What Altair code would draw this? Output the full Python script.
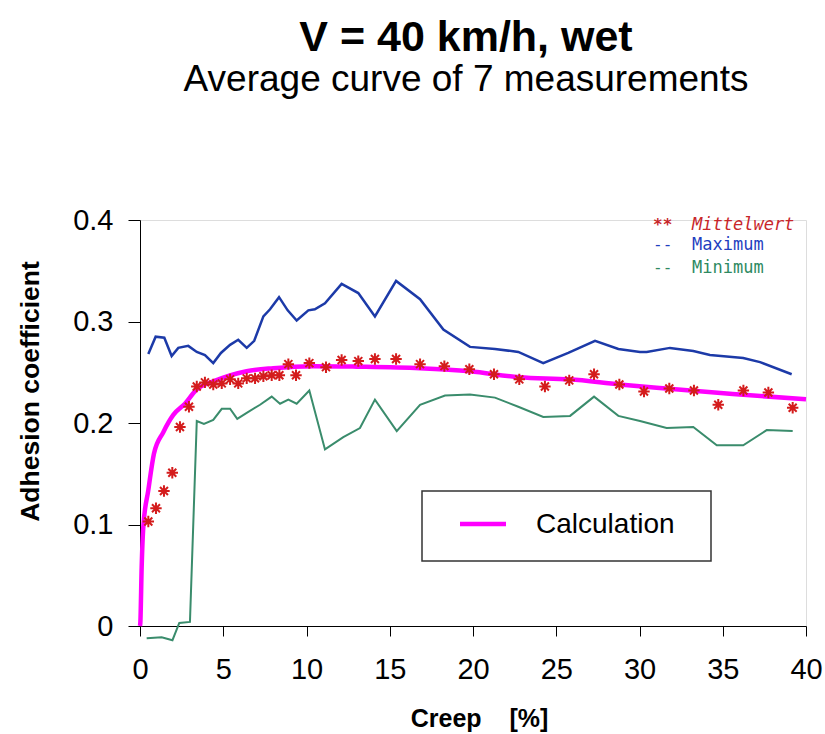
import altair as alt
import pandas as pd

# ---------------- data ----------------
max_x = [0.5, 0.94, 1.46, 1.9, 2.3, 2.9, 3.41, 3.9, 4.4, 4.86, 5.41, 5.9, 6.41, 6.86, 7.41, 7.81,
         8.35, 8.87, 9.41, 10.11, 10.5, 11.11, 12.11, 13.11, 14.11, 15.38, 16.82, 18.22, 19.82,
         21.32, 22.72, 24.22, 25.72, 27.33, 28.73, 30.03, 30.43, 31.83, 33.23, 34.23, 36.23, 37.24, 39.14]
max_y = [0.268, 0.285, 0.284, 0.266, 0.274, 0.276, 0.270, 0.267, 0.259, 0.269, 0.277, 0.282, 0.274,
         0.281, 0.305, 0.312, 0.324, 0.311, 0.301, 0.311, 0.312, 0.318, 0.337, 0.328, 0.305, 0.340,
         0.322, 0.292, 0.275, 0.273, 0.270, 0.259, 0.269, 0.281, 0.273, 0.270, 0.270, 0.274, 0.271,
         0.267, 0.264, 0.260, 0.248]

min_x = [0.4, 1.3, 1.95, 2.36, 3.0, 3.41, 3.84, 4.40, 4.91, 5.41, 5.84, 6.41, 7.21, 7.91, 8.41, 8.91,
         9.41, 10.17, 11.11, 12.21, 13.21, 14.11, 15.42, 16.82, 18.32, 19.82, 21.32, 22.72, 24.22,
         25.83, 27.27, 28.73, 30.03, 31.63, 33.23, 34.64, 36.23, 37.64, 39.2]
min_y = [-0.012, -0.011, -0.014, 0.003, 0.004, 0.202, 0.199, 0.203, 0.214, 0.214, 0.204, 0.210, 0.218,
         0.226, 0.219, 0.223, 0.219, 0.232, 0.174, 0.186, 0.195, 0.223, 0.192, 0.218, 0.227, 0.228,
         0.225, 0.216, 0.206, 0.207, 0.226, 0.207, 0.202, 0.195, 0.196, 0.178, 0.178, 0.193, 0.192]

mean_x = [0.50, 0.96, 1.44, 1.94, 2.40, 2.94, 3.41, 3.90, 4.40, 4.91, 5.41, 5.90, 6.41, 6.91, 7.41,
          7.91, 8.37, 8.91, 9.37, 10.17, 11.17, 12.11, 13.11, 14.11, 15.38, 16.82, 18.28, 19.78,
          21.26, 22.78, 24.32, 25.78, 27.27, 28.79, 30.27, 31.79, 33.27, 34.73, 36.24, 37.74, 39.2]
mean_y = [0.103, 0.116, 0.133, 0.151, 0.196, 0.216, 0.236, 0.240, 0.238, 0.239, 0.243, 0.239, 0.244,
          0.244, 0.246, 0.247, 0.247, 0.258, 0.247, 0.259, 0.255, 0.262, 0.261, 0.263, 0.263, 0.258,
          0.256, 0.253, 0.248, 0.243, 0.236, 0.242, 0.248, 0.238, 0.231, 0.234, 0.232, 0.218, 0.232,
          0.230, 0.215]

calc_x = [0, 0.02, 0.1, 0.2, 0.5, 0.84, 1.4, 2.0, 2.7, 3.4, 4.4, 5.4, 6.4, 8.0, 10.4, 13.0, 16.8,
          19.8, 22.8, 25.8, 28.8, 31.6, 35.6, 40.0]
calc_y = [0, 0.003, 0.058, 0.098, 0.134, 0.170, 0.191, 0.208, 0.219, 0.233, 0.241, 0.247, 0.251,
          0.254, 0.256, 0.2555, 0.254, 0.251, 0.245, 0.243, 0.238, 0.234, 0.2286, 0.2233]

x_ticks = [0, 5, 10, 15, 20, 25, 30, 35, 40]
y_ticks = [0, 0.1, 0.2, 0.3, 0.4]

title_text = "V = 40 km/h, wet"
subtitle_text = "Average curve of 7 measurements"
x_title = "Creep\u00a0\u00a0\u00a0\u00a0[%]"
y_title = "Adhesion coefficient"

legend_markers = ["**", "--", "--"]
legend_labels = ["Mittelwert", "Maximum", "Minimum"]
legend_colors = ["#c8262a", "#1f3fbf", "#2e8a62"]
calc_label = "Calculation"

# ---------------- chart ----------------
FONT = "Liberation Sans"
W, H = 666, 406

xs = alt.Scale(domain=[0, 40], nice=False)
ys = alt.Scale(domain=[0, 0.4], nice=False)

x_axis = alt.Axis(values=x_ticks, grid=False, domainColor="black", tickColor="black",
                  tickSize=10, labelFontSize=29, labelFont=FONT, labelColor="black",
                  labelPadding=19, labelFlush=False, labelOverlap=False,
                  title=x_title, titleFont=FONT, titleFontSize=25,
                  titleFontWeight="bold", titleColor="black", titleX=339, titleY=92,
                  titleBaseline="middle", titleAlign="center")
y_axis = alt.Axis(values=y_ticks, format="~g", grid=False, domainColor="black", tickColor="black",
                  tickSize=12, labelFontSize=29, labelFont=FONT, labelColor="black",
                  labelPadding=15, labelFlush=False, labelOverlap=False,
                  title=y_title, titleFont=FONT, titleFontSize=26.5,
                  titleFontWeight="bold", titleColor="black", titleX=-110, titleY=171,
                  titleAngle=-90, titleBaseline="middle", titleAlign="center")

df_max = pd.DataFrame({"x": max_x, "y": max_y})
df_min = pd.DataFrame({"x": min_x, "y": min_y})
df_mean = pd.DataFrame({"x": mean_x, "y": mean_y})
df_calc = pd.DataFrame({"x": calc_x, "y": calc_y})

max_line = alt.Chart(df_max).mark_line(color="#1c3aa8", strokeWidth=2.5).encode(
    x=alt.X("x:Q", scale=xs, axis=x_axis), y=alt.Y("y:Q", scale=ys, axis=y_axis))
min_line = alt.Chart(df_min).mark_line(color="#3a8c6c", strokeWidth=2).encode(
    x=alt.X("x:Q", scale=xs), y=alt.Y("y:Q", scale=ys))
calc_line = alt.Chart(df_calc).mark_line(color="#ff00ff", strokeWidth=4.5, interpolate="monotone").encode(
    x=alt.X("x:Q", scale=xs), y=alt.Y("y:Q", scale=ys))
star_shape = "M-1,0L1,0M0,-1L0,1M-0.7,-0.7L0.7,0.7M-0.7,0.7L0.7,-0.7"
stars = alt.Chart(df_mean).mark_point(shape=star_shape, filled=False, color="#d41c1c",
                                      strokeWidth=2, size=130, opacity=1).encode(
    x=alt.X("x:Q", scale=xs), y=alt.Y("y:Q", scale=ys))

layers = [max_line, min_line, calc_line, stars]

# top-right legend (text)
leg_y = [5, 25, 48]
for i in range(3):
    d = pd.DataFrame({"m": [legend_markers[i]], "t": [legend_labels[i]]})
    layers.append(alt.Chart(d).mark_text(font="DejaVu Sans Mono", fontSize=16, align="left",
                                         baseline="middle", color=legend_colors[i],
                                         fontWeight="bold" if i == 0 else "normal").encode(
        x=alt.value(513), y=alt.value(leg_y[i]), text="m:N"))
    layers.append(alt.Chart(d).mark_text(font="DejaVu Sans Mono", fontSize=17, align="left",
                                         baseline="middle", color=legend_colors[i],
                                         fontStyle="italic" if i == 0 else "normal").encode(
        x=alt.value(552), y=alt.value(leg_y[i]), text="t:N"))

# calculation legend box
dl = pd.DataFrame({"t": [calc_label]})
layers.append(alt.Chart(dl).mark_rect(fill="white", stroke="#333333", strokeWidth=1.5).encode(
    x=alt.value(282), x2=alt.value(571), y=alt.value(271), y2=alt.value(341)))
layers.append(alt.Chart(dl).mark_rule(color="#ff00ff", strokeWidth=4.5).encode(
    x=alt.value(320), x2=alt.value(366), y=alt.value(304)))
layers.append(alt.Chart(dl).mark_text(font=FONT, fontSize=28, align="left", baseline="middle",
                                      color="black").encode(
    x=alt.value(396), y=alt.value(305), text="t:N"))

chart = alt.layer(*layers).properties(
    width=W, height=H,
    title=alt.TitleParams(text=title_text, subtitle=subtitle_text, font=FONT, subtitleFont=FONT,
                          fontSize=43, subtitleFontSize=37, fontWeight="bold",
                          subtitleFontWeight="normal", color="black", subtitleColor="black",
                          anchor="middle", dx=-7, offset=108, subtitlePadding=2),
    autosize=alt.AutoSizeParams(type="none"),
    padding={"left": 140, "top": 220, "right": 19, "bottom": 108},
).configure_view(strokeWidth=0).configure(background="white")

chart.save("out.html", embed_options={"renderer": "svg", "actions": False})
